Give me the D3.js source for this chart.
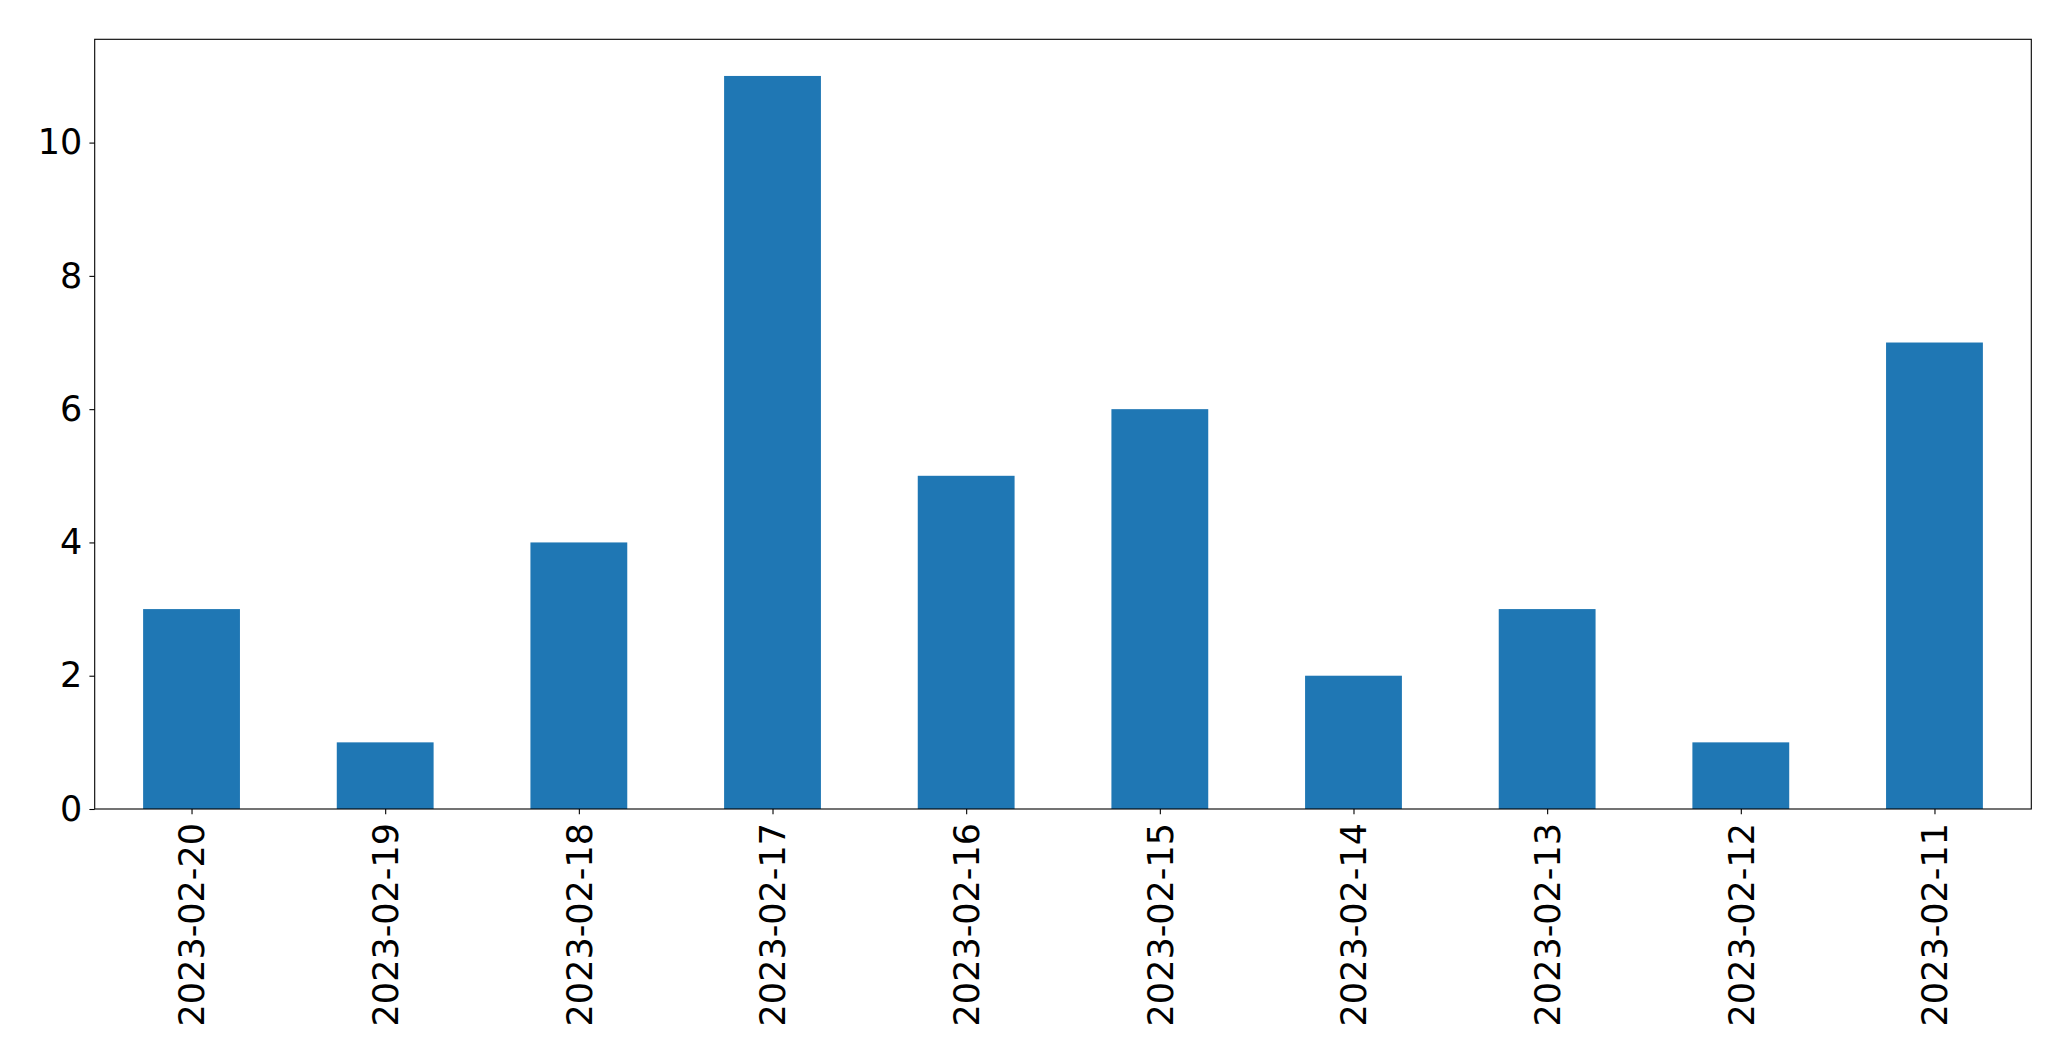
<!DOCTYPE html>
<html><head><meta charset="utf-8">
<script src="https://cdn.jsdelivr.net/npm/d3@7"></script>
<style>body{margin:0;background:#fff}svg{display:block}</style>
</head><body>
<script>
const categories = ["2023-02-20","2023-02-19","2023-02-18","2023-02-17","2023-02-16","2023-02-15","2023-02-14","2023-02-13","2023-02-12","2023-02-11"];
const values = [3,1,4,11,5,6,2,3,1,7];
const yTicks = [0,2,4,6,8,10];

const W = 2071, H = 1061;
const mLeft = 94.7, mRight = 2031.3, mTop = 39.3, mBottom = 809;
const svg = d3.select("body").append("svg").attr("width", W).attr("height", H);

const x = d3.scaleLinear().domain([-0.5, categories.length - 0.5]).range([mLeft, mRight]);
const y = d3.scaleLinear().domain([0, d3.max(values) * 1.05]).range([mBottom, mTop]);

svg.selectAll("rect.bar").data(values).join("rect")
  .attr("class","bar")
  .attr("x", (d,i) => x(i - 0.25))
  .attr("width", (d,i) => x(i + 0.25) - x(i - 0.25))
  .attr("y", d => y(d))
  .attr("height", d => y(0) - y(d))
  .attr("fill", "#1f77b4");

const font = "DejaVu Sans";
const fs = 35;

const yAxis = svg.append("g").attr("transform", `translate(${mLeft},0)`)
  .call(d3.axisLeft(y).tickValues(yTicks).tickFormat(d3.format("d")).tickSize(5.3).tickPadding(7));
yAxis.select(".domain").remove();
yAxis.selectAll("text").attr("font-family", font).attr("font-size", fs).attr("fill","#000");
yAxis.selectAll("line").attr("stroke","#000").attr("stroke-width",1.1);

const xAxis = svg.append("g").attr("transform", `translate(0,${mBottom})`)
  .call(d3.axisBottom(x).tickValues(d3.range(categories.length)).tickFormat(i => categories[i]).tickSize(5.3).tickPadding(0));
xAxis.select(".domain").remove();
xAxis.selectAll("line").attr("stroke","#000").attr("stroke-width",1.1);
xAxis.selectAll("text")
  .attr("font-family", font).attr("font-size", fs).attr("fill","#000")
  .attr("text-anchor","end").attr("dy","0.35em")
  .attr("transform","translate(0,14) rotate(-90)")
  .attr("y", 0).attr("x", 0);

svg.append("rect").attr("x", mLeft).attr("y", mTop).attr("width", mRight-mLeft).attr("height", mBottom-mTop)
  .attr("fill","none").attr("stroke","#000").attr("stroke-width",1.1);
</script>
</body></html>
